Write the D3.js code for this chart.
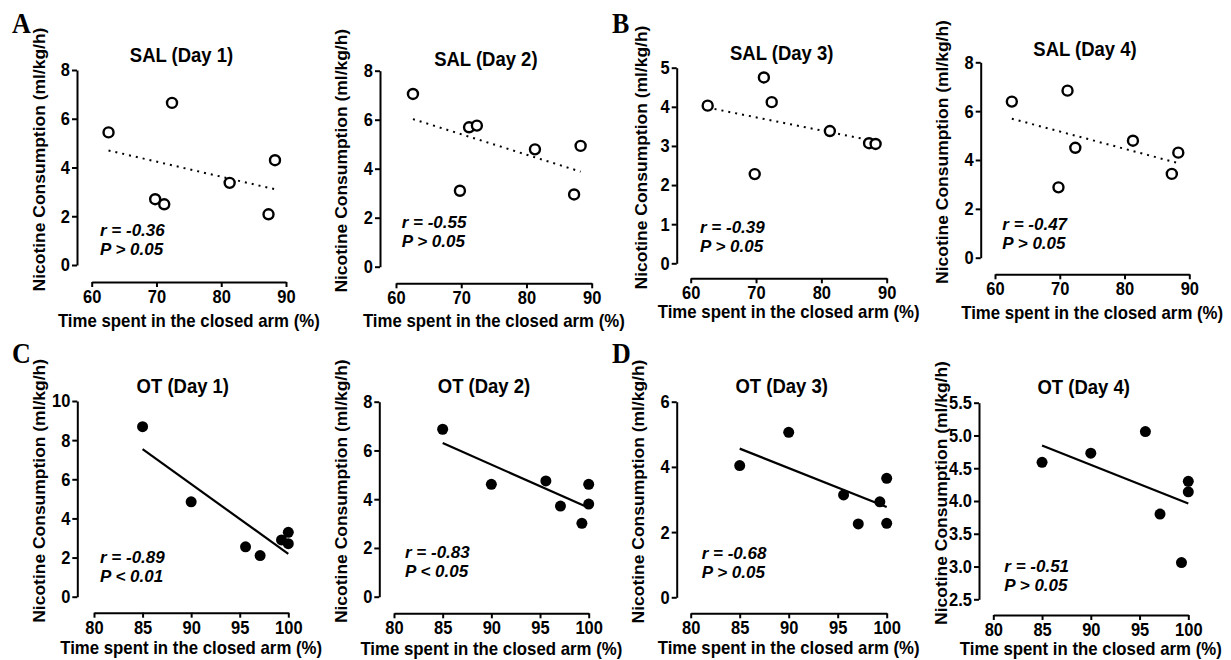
<!DOCTYPE html>
<html>
<head>
<meta charset="utf-8">
<script src="https://cdn.jsdelivr.net/npm/d3@7"></script>
<style>
  body { margin: 0; background: #fff; }
  svg { display: block; }
</style>
</head>
<body>
<svg id="chart" width="1231" height="660"></svg>
<script>
// Nicotine consumption vs time in closed arm, SAL and OT groups, days 1-4

// ---- data ----
const salTime = [62.6, 69.8, 71.2, 72.4, 81.3, 87.3, 88.3];
const salDay1 = [5.44, 2.70, 2.49, 6.65, 3.37, 2.08, 4.30];
const salDay2 = [7.05, 3.10, 5.69, 5.76, 4.79, 2.95, 4.93];
const salDay3 = [4.03, 2.28, 4.75, 4.12, 3.38, 3.07, 3.05];
const salDay4 = [6.39, 2.88, 6.84, 4.50, 4.79, 3.43, 4.30];

const otTime = [85.0, 90.0, 95.6, 97.1, 99.3, 100, 100];
const otDay1 = [8.69, 4.85, 2.55, 2.10, 2.90, 3.29, 2.71];
const otDay2 = [6.87, 4.61, 4.75, 3.72, 3.01, 4.61, 3.80];
const otDay3 = [4.04, 5.06, 3.14, 2.25, 2.93, 3.65, 2.27];
const otDay4 = [4.59, 4.73, 5.06, 3.80, 3.06, 4.30, 4.14];

const panelTitles = [
  "SAL (Day 1)", "SAL (Day 2)", "SAL (Day 3)", "SAL (Day 4)",
  "OT (Day 1)", "OT (Day 2)", "OT (Day 3)", "OT (Day 4)",
];
const rLabels = ["r = -0.36", "r = -0.55", "r = -0.39", "r = -0.47",
                 "r = -0.89", "r = -0.83", "r = -0.68", "r = -0.51"];
const pLabels = ["P > 0.05", "P > 0.05", "P > 0.05", "P > 0.05",
                 "P < 0.01", "P < 0.05", "P > 0.05", "P > 0.05"];

const salXTicks = [60, 70, 80, 90];
const otXTicks = [80, 85, 90, 95, 100];
const yTickSets = [
  [0, 2, 4, 6, 8],
  [0, 2, 4, 6, 8],
  [0, 1, 2, 3, 4, 5],
  [0, 2, 4, 6, 8],
  [0, 2, 4, 6, 8, 10],
  [0, 2, 4, 6, 8],
  [0, 2, 4, 6],
  [2.5, 3.0, 3.5, 4.0, 4.5, 5.0, 5.5],
];
const panelLetters = ["A", "B", "C", "D"];

const xLabel = "Time spent in the closed arm (%)";
const yLabel = "Nicotine Consumption (ml/kg/h)";

// ---- layout (pixel frames of each small plot) ----
// ax: y-axis x, top/bot: y-axis extent, xy: x-axis y, xl/xr: x-axis extent
const frames = [
  { ax: 77,    top: 70,    bot: 265,   xy: 282,   xl: 91.7,  xr: 286,    tY: 62,    xtY: 327,   yt: 40,    annX: 100,    annY: 235.5 },
  { ax: 380,   top: 70.7,  bot: 266.7, xy: 283.3, xl: 396,   xr: 591.7,  tY: 66,    xtY: 327,   yt: 341.7, annX: 401.7,  annY: 227.5 },
  { ax: 676.7, top: 67.7,  bot: 263.3, xy: 278.3, xl: 690.7, xr: 886.7,  tY: 59.5,  xtY: 318,   yt: 641.7, annX: 700,    annY: 232.5 },
  { ax: 980.7, top: 62.3,  bot: 257.7, xy: 274.3, xl: 995,   xr: 1189.3, tY: 55.5,  xtY: 319,   yt: 942.7, annX: 1002.3, annY: 229.5 },
  { ax: 77.3,  top: 401,   bot: 596.7, xy: 612.7, xl: 94,    xr: 288.3,  tY: 392.7, xtY: 654,   yt: 40,    annX: 100,    annY: 562.5 },
  { ax: 379.3, top: 401.7, bot: 596.7, xy: 613.3, xl: 394,   xr: 588.7,  tY: 392.7, xtY: 655,   yt: 341.7, annX: 405,    annY: 557.5 },
  { ax: 676.7, top: 401.7, bot: 597.3, xy: 613.3, xl: 690.7, xr: 886.7,  tY: 392.7, xtY: 654,   yt: 638.3, annX: 701.7,  annY: 558.5 },
  { ax: 979,   top: 402.7, bot: 599.3, xy: 615,   xl: 993.3, xr: 1188.3, tY: 394.3, xtY: 655,   yt: 941.7, annX: 1004.3, annY: 571.5 },
];
const letterPos = [[12, 33], [612, 33], [12, 363], [612, 363]];

const FONT = "'Liberation Sans', Arial, Helvetica, sans-serif";
const S = 1.12; // the source figure's lettering is a bit taller than wide

const svg = d3.select("#chart");
svg.append("rect").attr("width", 1231).attr("height", 660).attr("fill", "#fff");

const panels = [
  { x: salTime, y: salDay1, xt: salXTicks, open: true },
  { x: salTime, y: salDay2, xt: salXTicks, open: true },
  { x: salTime, y: salDay3, xt: salXTicks, open: true },
  { x: salTime, y: salDay4, xt: salXTicks, open: true },
  { x: otTime, y: otDay1, xt: otXTicks, open: false },
  { x: otTime, y: otDay2, xt: otXTicks, open: false },
  { x: otTime, y: otDay3, xt: otXTicks, open: false },
  { x: otTime, y: otDay4, xt: otXTicks, open: false },
];

panels.forEach((p, i) => drawPanel(p, i));

// panel letters
svg.selectAll(".panel-letter")
  .data(panelLetters)
  .enter()
  .append("text")
  .attr("class", "panel-letter")
  .attr("transform", (d, i) => `translate(${letterPos[i][0]},${letterPos[i][1]}) scale(1,${S})`)
  .attr("font-family", "'Liberation Serif', 'Times New Roman', serif")
  .attr("font-weight", "bold")
  .attr("font-size", 26)
  .text((d) => d);

function linreg(xs, ys) {
  const mx = d3.mean(xs);
  const my = d3.mean(ys);
  let sxy = 0, sxx = 0;
  xs.forEach((x, k) => {
    sxy += (x - mx) * (ys[k] - my);
    sxx += (x - mx) * (x - mx);
  });
  const slope = sxy / sxx;
  return { slope, intercept: my - slope * mx };
}

// bold text placed at (x, y), slightly stretched vertically
function label(g, x, y, size, txt, stretch = S) {
  return g.append("text")
    .attr("transform", `translate(${x},${y}) scale(1,${stretch})`)
    .attr("font-family", FONT)
    .attr("font-weight", "bold")
    .attr("font-size", size)
    .text(txt);
}

function drawPanel(p, i) {
  const f = frames[i];
  const yt = yTickSets[i];
  const g = svg.append("g").attr("class", "panel");

  const x = d3.scaleLinear()
    .domain([p.xt[0], p.xt[p.xt.length - 1]])
    .range([f.xl, f.xr]);
  const y = d3.scaleLinear()
    .domain([yt[0], yt[yt.length - 1]])
    .range([f.bot, f.top]);

  const yFmt = i === 7 ? d3.format(".1f") : d3.format("d");

  // y axis
  const yAxisG = g.append("g")
    .attr("transform", `translate(${f.ax},0)`)
    .call(d3.axisLeft(y).tickValues(yt).tickFormat(yFmt)
      .tickSize(5).tickSizeOuter(0).tickPadding(2));

  // x axis (detached, below)
  const xAxisG = g.append("g")
    .attr("transform", `translate(0,${f.xy})`)
    .call(d3.axisBottom(x).tickValues(p.xt).tickFormat(d3.format("d"))
      .tickSize(5).tickSizeOuter(0).tickPadding(2));

  [yAxisG, xAxisG].forEach((ag) => {
    ag.attr("font-family", FONT).attr("font-size", 16.5).attr("font-weight", "bold");
    ag.selectAll("path, line").attr("stroke", "#000").attr("stroke-width", 2);
    ag.selectAll("text").attr("fill", "#000").attr("transform", `scale(1,${S})`);
  });

  // regression line over the data range
  const fit = linreg(p.x, p.y);
  const [x0, x1] = d3.extent(p.x);
  g.append("line")
    .attr("x1", x(x0))
    .attr("y1", y(fit.intercept + fit.slope * x0))
    .attr("x2", x(x1))
    .attr("y2", y(fit.intercept + fit.slope * x1))
    .attr("stroke", "#000")
    .attr("stroke-width", p.open ? 2 : 2.2)
    .attr("stroke-dasharray", p.open ? "2,5" : null);

  // points
  g.selectAll(".dot")
    .data(p.x.map((v, k) => ({ x: v, y: p.y[k] })))
    .enter()
    .append("circle")
    .attr("class", "dot")
    .attr("cx", (d) => x(d.x))
    .attr("cy", (d) => y(d.y))
    .attr("r", p.open ? 5 : 5.5)
    .attr("fill", p.open ? "#fff" : "#000")
    .attr("stroke", "#000")
    .attr("stroke-width", p.open ? 2.4 : 0);

  // title
  label(g, (f.ax + f.xr) / 2, f.tY, 18.5, panelTitles[i])
    .attr("text-anchor", "middle");

  // x axis title
  label(g, (f.xl + f.xr) / 2, f.xtY, 16.8, xLabel)
    .attr("text-anchor", "middle");

  // y axis title
  g.append("text")
    .attr("transform", `translate(${f.yt},${(f.top + f.bot) / 2 - 8}) scale(1,${S}) rotate(-90)`)
    .attr("dy", "0.35em")
    .attr("text-anchor", "middle")
    .attr("font-family", FONT)
    .attr("font-weight", "bold")
    .attr("font-size", 15.6)
    .text(yLabel);

  // stats annotation, two lines
  label(g, f.annX, f.annY, 17, rLabels[i], 1).attr("font-style", "italic");
  label(g, f.annX, f.annY + 19.7, 17, pLabels[i], 1).attr("font-style", "italic");
}
</script>
</body>
</html>
